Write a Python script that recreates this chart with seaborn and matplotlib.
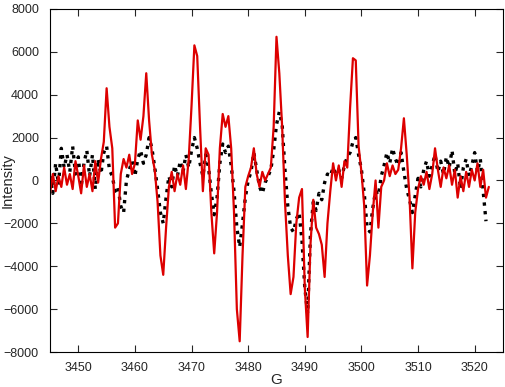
import numpy as np
import pandas as pd
import matplotlib
matplotlib.use("Agg")
import matplotlib.pyplot as plt
import seaborn as sns

# field (G), 0.5 G steps
field_red = np.arange(3445.0, 3523.0, 0.5)
red = [-600, 300, -500, 200, -300, 600, -200, 300, -400, 900,
       200, -600, 700, -300, 300, -500, 900, -100, 1000, 1800,
       4300, 2500, 1500, -2200, -2000, 300, 1000, 600, 1200, 300,
       800, 2800, 1900, 3000, 5000, 2800, 1200, 500, -1000, -3500,
       -4400, -2200, -300, 400, -500, 300, -200, 700, -400, 1000,
       3500, 6300, 5800, 2500, -500, 1500, 1200, -1500, -3400, -1500,
       1500, 3100, 2500, 3000, 1500, -1500, -6000, -7500, -3500, -300,
       200, 600, 1500, 300, -300, 400, 0, 300, 600, 2500,
       6700, 5000, 2500, -1000, -3500, -5300, -4500, -2000, -800, -400,
       -5000, -7300, -3000, -900, -2200, -2500, -3000, -4500, -2000, -500,
       800, 0, 700, -300, 900, 600, 3400, 5700, 5600, 1600,
       400, -1200, -4900, -3500, -1500, 0, -2200, -300, 0, 800,
       200, 700, 300, 500, 1500, 2900, 1200, -800, -4100, -1500,
       -400, 200, -200, 400, -400, 300, 1500, 500, -300, 600,
       100, 700, -200, 500, -800, 200, -500, 400, -300, 500,
       0, 800, -300, 500, -800, -300]

field_black = np.arange(3445.0, 3522.5, 0.5)
black = [200, -600, 800, -200, 1500, 600, 1200, 400, 1600, 300,
         1100, -300, 800, 1400, 200, 1200, -400, 1000, 300, 1300,
         1600, 500, 200, -500, -300, -1200, -1500, 0, 500, 900,
         200, 1000, 1400, 800, 1200, 2000, 1500, 600, -400, -1500,
         -2000, -800, 200, -300, 700, 200, 900, 400, 1200, 600,
         1400, 2000, 1500, 800, 200, 1200, 600, -600, -1600, -800,
         800, 1700, 1300, 1600, 700, -500, -2200, -3100, -2000, -800,
         0, 400, 1300, 500, -300, -600, -100, 200, 500, 1400,
         2600, 3200, 2600, 500, -1200, -2200, -2400, -1800, -1500, -2800,
         -5000, -6200, -2500, -1000, -1400, -600, -900, -100, 300, 200,
         600, 300, 500, 100, 700, 1100, 1300, 1800, 2000, 1200,
         500, -600, -2200, -2400, -1300, -500, -700, 200, 700, 1300,
         800, 1500, 1000, 700, 1300, 400, -400, -900, -1500, -700,
         100, -300, 500, 900, 200, 700, 1200, 400, 900, 300,
         1100, 600, 1400, 300, 800, -400, 600, 1000, 200, 700,
         1300, 400, 1000, -500, -1900]

df_red = pd.DataFrame({"G": field_red, "Intensity": red})
df_black = pd.DataFrame({"G": field_black, "Intensity": black})

sns.set_style("ticks")
plt.rcParams['font.family'] = ['Liberation Sans', 'DejaVu Sans']

fig = plt.figure(figsize=(5.05, 3.87), dpi=100)
ax = fig.add_axes([0.099, 0.0904, 0.897, 0.8866])

sns.lineplot(data=df_black, x="G", y="Intensity", ax=ax, color="black",
             linewidth=2.4, linestyle=(0, (1, 1.6)), sort=False)
sns.lineplot(data=df_red, x="G", y="Intensity", ax=ax, color="#dd0000",
             linewidth=1.6, sort=False)

ax.set_xlim(3445, 3525)
ax.set_ylim(-8000, 8000)
ax.set_xticks(range(3450, 3521, 10))
ax.set_yticks(range(-8000, 8001, 2000))
ax.tick_params(direction="in", top=True, right=True, labelsize=9, length=5, width=0.8)
ax.tick_params(axis="y", pad=8)
ax.tick_params(axis="x", pad=7)
for s in ax.spines.values():
    s.set_linewidth(0.8)
    s.set_color("black")
ax.set_xlabel("G", fontsize=11)
ax.set_ylabel("Intensity", fontsize=10.5)
ax.yaxis.set_label_coords(-0.078, 0.5)
ax.xaxis.set_label_coords(0.5, -0.06)

fig.savefig("out.png", dpi=100)
